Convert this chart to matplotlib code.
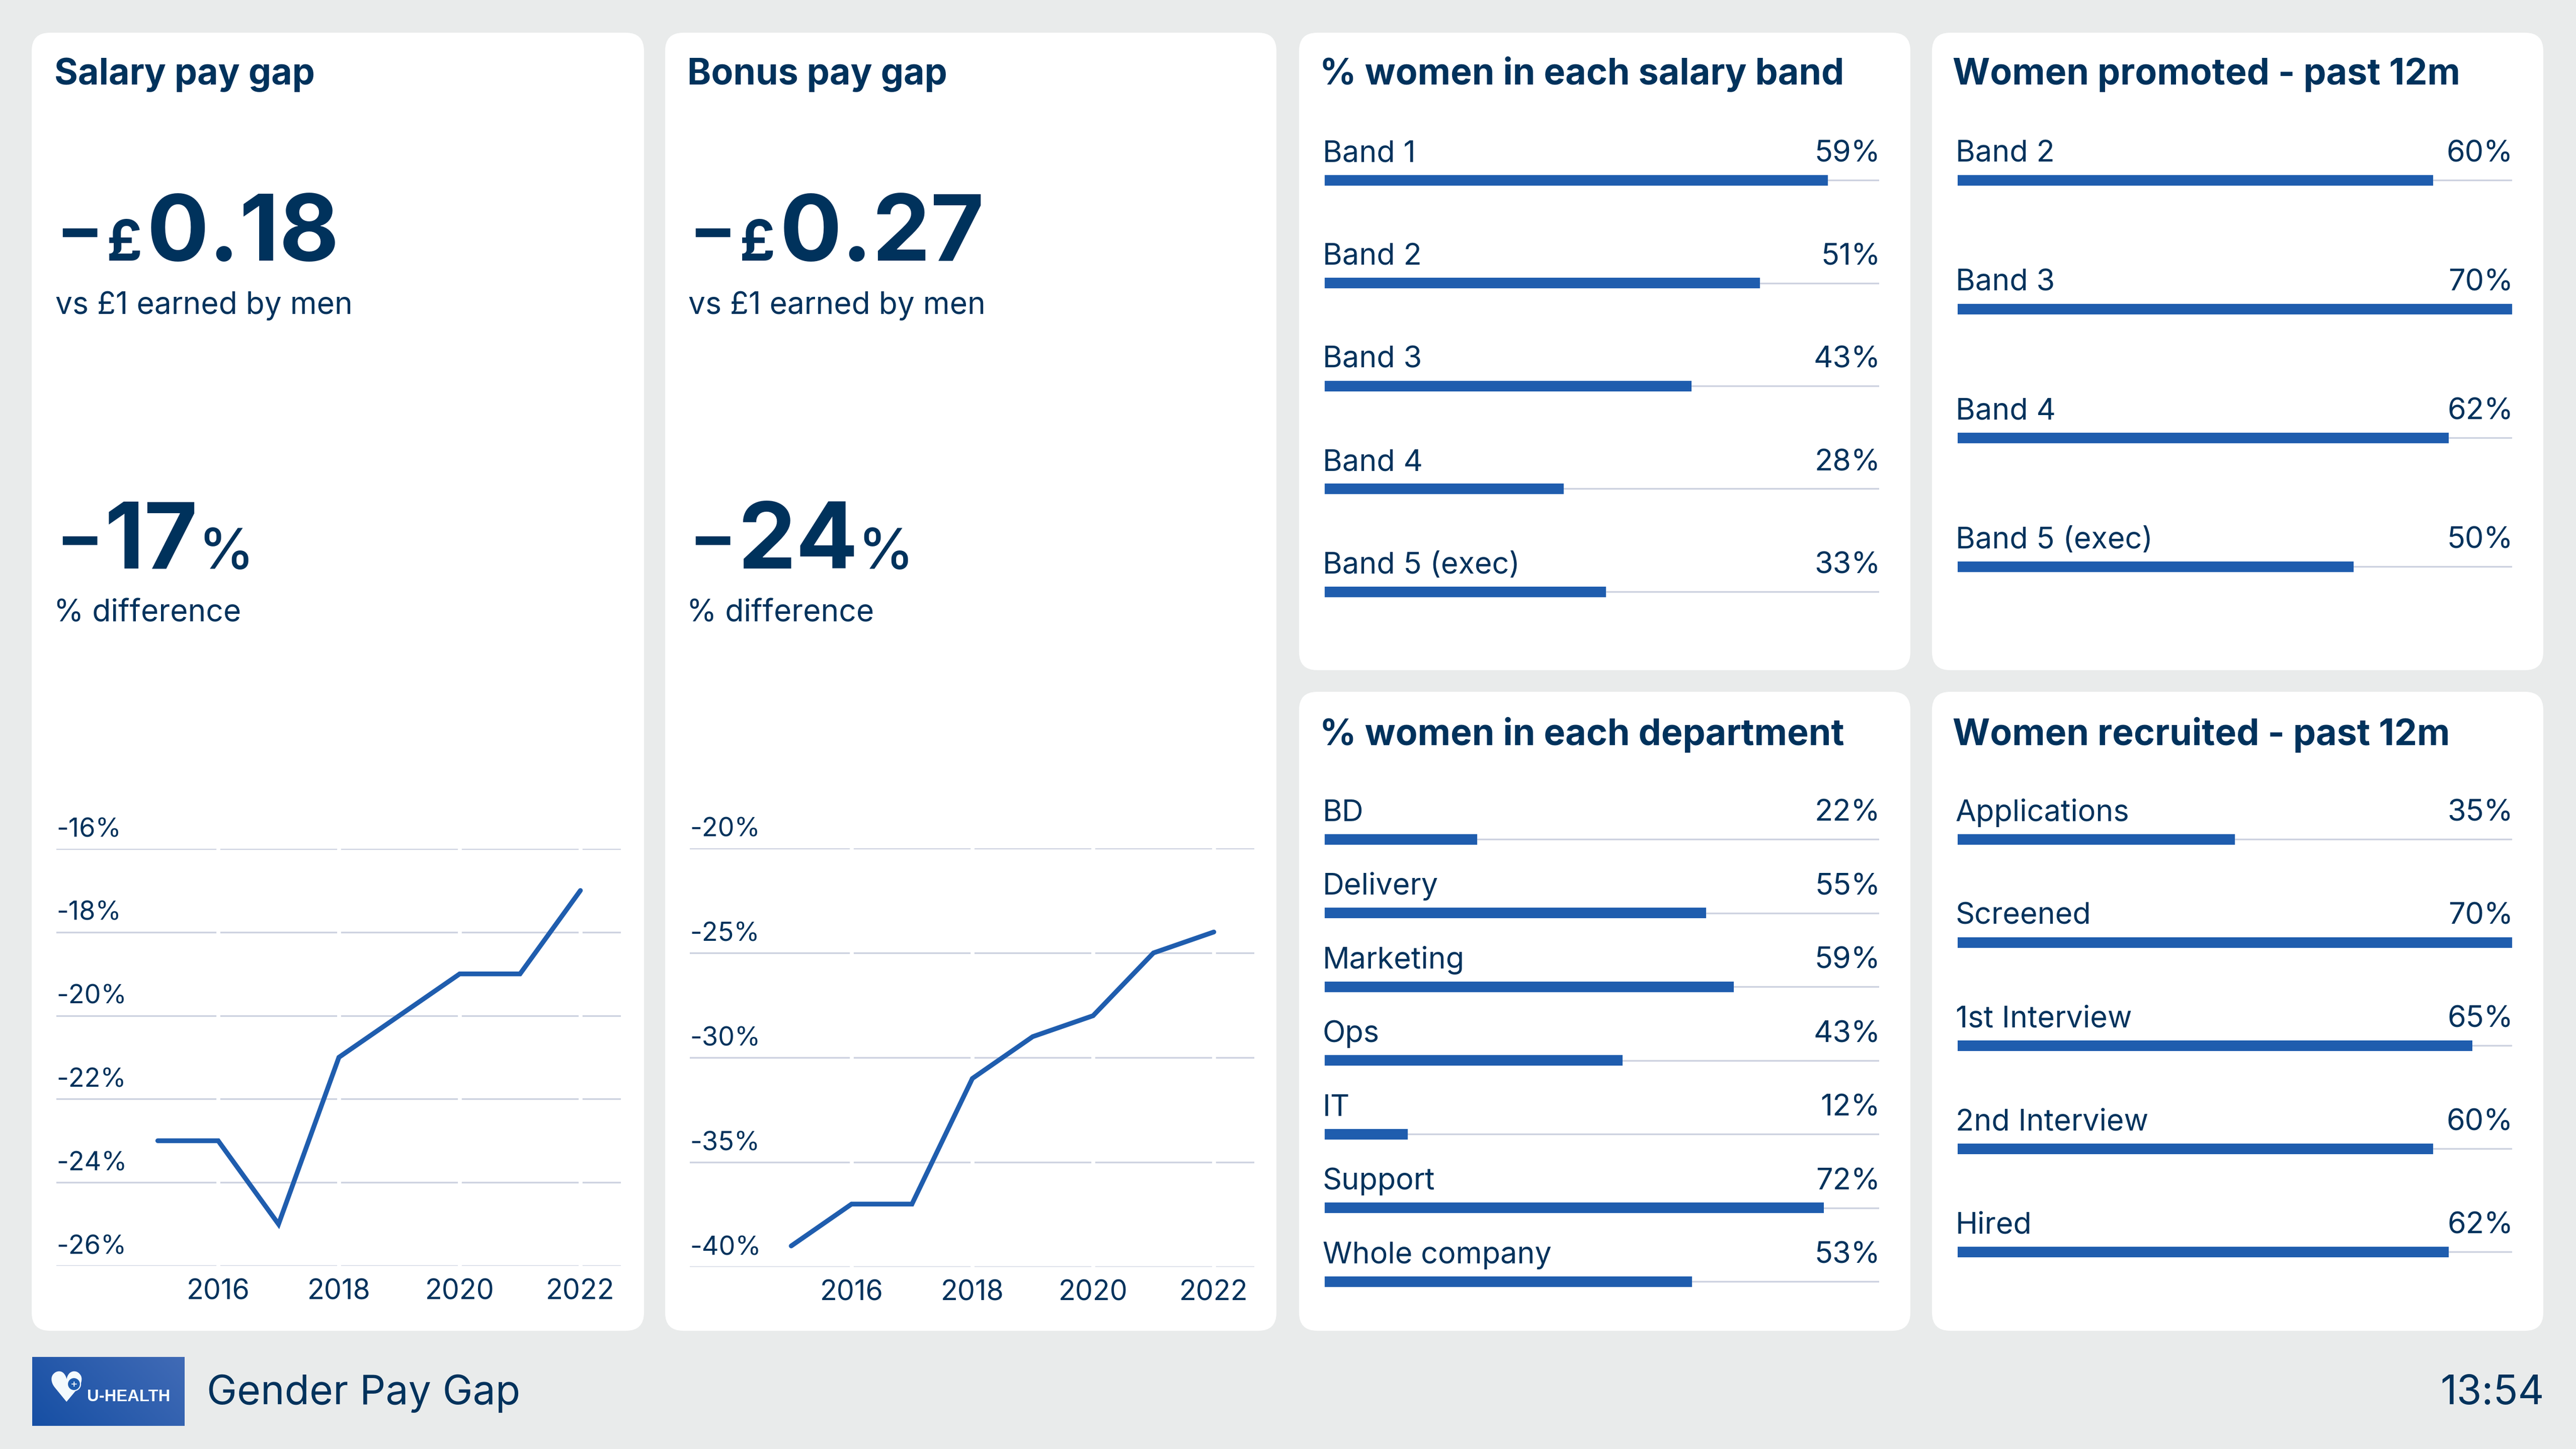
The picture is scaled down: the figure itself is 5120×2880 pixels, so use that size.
import matplotlib
matplotlib.use("Agg")
import matplotlib.pyplot as plt
from matplotlib.patches import FancyBboxPatch, Circle
from matplotlib.transforms import ScaledTranslation
import numpy as np

W, H = 5120, 2880
BG = "#E9EBEB"
NAVY = "#00325C"
BLUE = "#1F5DAE"
GRID = "#CDD2E0"
FONT = "Inter"

# data
years = [2015, 2016, 2017, 2018, 2019, 2020, 2021, 2022]
xticks = [2016, 2018, 2020, 2022]
salary_gap = [-23, -23, -25, -21, -20, -19, -19, -17]
bonus_gap = [-39, -37, -37, -31, -29, -28, -25, -24]
salary_ticks = [-26, -24, -22, -20, -18, -16]
bonus_ticks = [-40, -35, -30, -25, -20]

band_names = ["Band 1", "Band 2", "Band 3", "Band 4", "Band 5 (exec)"]
band_vals = [59, 51, 43, 28, 33]
promoted_names = ["Band 2", "Band 3", "Band 4", "Band 5 (exec)"]
promoted_vals = [60, 70, 62, 50]
dept_names = ["BD", "Delivery", "Marketing", "Ops", "IT", "Support", "Whole company"]
dept_vals = [22, 55, 59, 43, 12, 72, 53]
recruited_names = ["Applications", "Screened", "1st Interview", "2nd Interview", "Hired"]
recruited_vals = [35, 70, 65, 60, 62]

plt.rcParams['font.family'] = [FONT, 'DejaVu Sans']

fig = plt.figure(figsize=(12.8, 7.2), dpi=400, facecolor=BG)


def rect(x0, y0, x1, y1):
    # pixel box (y down) to figure fraction
    return [x0 / W, 1 - y1 / H, (x1 - x0) / W, (y1 - y0) / H]


bg = fig.add_axes([0, 0, 1, 1], zorder=0)
bg.set_xlim(0, W)
bg.set_ylim(H, 0)
bg.axis('off')

cards = [(63, 65, 1280, 2645), (1322, 65, 2537, 2645),
         (2582, 65, 3797, 1332), (3840, 65, 5055, 1332),
         (2582, 1375, 3797, 2645), (3840, 1375, 5055, 2645)]
for x0, y0, x1, y1 in cards:
    bg.add_patch(FancyBboxPatch((x0 + 36, y0 + 36), x1 - x0 - 72, y1 - y0 - 72,
                                boxstyle="round,pad=36,rounding_size=36",
                                fc="white", ec="none"))


def big_stat(dx, title, money, pct, sub1="vs £1 earned by men", sub2="% difference"):
    bg.text(108 + dx, 168, title, fontsize=12.9, fontweight='bold', color=NAVY)
    bg.text(111 + dx, 503, "−", fontsize=25, fontweight='bold', color=NAVY)
    bg.text(212 + dx, 518, "£", fontsize=20, fontweight='bold', color=NAVY)
    bg.text(292 + dx, 518, money, fontsize=33, fontweight='bold', color=NAVY)
    bg.text(110 + dx, 624, sub1, fontsize=10.9, color=NAVY)
    bg.text(111 + dx, 1115, "−", fontsize=25, fontweight='bold', color=NAVY)
    t = bg.text(208 + dx, 1130, pct, fontsize=33, fontweight='bold', color=NAVY)
    fig.canvas.draw()
    bb = t.get_window_extent()
    bg.text(bb.x1, 1130, "%", fontsize=20, fontweight='medium', color=NAVY)
    bg.text(107 + dx, 1235, sub2, fontsize=10.9, color=NAVY)


big_stat(0, "Salary pay gap", "0.18", "17")
big_stat(1258, "Bonus pay gap", "0.27", "24")


def line_chart(dx, vals, ticks, y_top, y_bot):
    ax = fig.add_axes(rect(110 + dx, y_top, 1232 + dx, y_bot), zorder=1)
    ax.patch.set_alpha(0)
    for s in ax.spines.values():
        s.set_visible(False)
    ax.set_xlim(2013.32, 2022.67)
    ax.set_ylim(min(ticks), max(ticks))
    ax.set_xticks(xticks)
    ax.set_yticks(ticks)
    ax.set_yticklabels([f"{t}%" for t in ticks])
    ax.tick_params(axis='both', length=0, colors=NAVY)
    ax.tick_params(axis='x', labelsize=10, pad=4.6)
    ax.tick_params(axis='y', labelsize=9.4, pad=0)
    for lab in ax.get_yticklabels():
        lab.set_ha('left')
        lab.set_va('baseline')
        lab.set_transform(lab.get_transform() + ScaledTranslation(0, 4.3 / 72, fig.dpi_scale_trans))
    ax.grid(axis='y', color=GRID, lw=0.6, zorder=1)
    ax.set_axisbelow(True)
    ax.vlines(xticks, min(ticks), max(ticks), color='white', lw=1.4, zorder=1.5, clip_on=False)
    ax.plot(years, vals, color=BLUE, lw=1.7, solid_joinstyle='miter',
            solid_capstyle='round', zorder=3, clip_on=False)


line_chart(2, salary_gap, salary_ticks, 1687, 2516)
line_chart(1261, bonus_gap, bonus_ticks, 1686, 2518)


def bar_panel(x0, title_y, title, names, vals, vmax, first, step):
    x1 = x0 + 1102
    bg.text(x0 - 10, title_y, title, fontsize=12.9, fontweight='bold', color=NAVY)
    n = len(vals)
    ax = fig.add_axes(rect(x0, first - step / 2, x1, first + step * (n - 0.5)), zorder=1)
    ax.patch.set_alpha(0)
    ax.axis('off')
    ax.set_xlim(0, vmax)
    ax.set_ylim(n - 0.5, -0.5)
    ys = np.arange(n)
    ax.hlines(ys, 0, vmax, color=GRID, lw=0.6, zorder=1)
    ax.barh(ys, vals, height=21 / step, color=BLUE, zorder=2)
    for y, name, v in zip(ys, names, vals):
        ax.annotate(name, (0, y), xytext=(-0.8, 6.5), textcoords='offset points',
                    fontsize=10.7, color=NAVY, ha='left', va='baseline')
        ax.annotate(f"{v}%", (vmax, y), xytext=(0.4, 6.5), textcoords='offset points',
                    fontsize=10.7, color=NAVY, ha='right', va='baseline')


bar_panel(2633, 168, "% women in each salary band", band_names, band_vals, 65, 358, 204.5)
bar_panel(3891, 168, "Women promoted - past 12m", promoted_names, promoted_vals, 70, 358, 256)
bar_panel(2633, 1481, "% women in each department", dept_names, dept_vals, 80, 1668, 146.5)
bar_panel(3891, 1481, "Women recruited - past 12m", recruited_names, recruited_vals, 70, 1668, 205)

# footer logo
grad = np.linspace(0, 1, 200)[None, :] * 0.7 + np.linspace(1, 0, 60)[:, None] * 0.3
logo_cmap = matplotlib.colors.LinearSegmentedColormap.from_list("logo", ["#164FA4", "#416BB6"])
bg.imshow(grad, extent=(64, 367, 2834, 2697), cmap=logo_cmap, aspect='auto', zorder=2)
bg.set_xlim(0, W)
bg.set_ylim(H, 0)
bg.text(132, 2763, "♥", fontsize=15, color="#F3FAFD", ha='center', va='center',
        family='DejaVu Sans', zorder=3)
bg.add_patch(Circle((147, 2751), 13, fc=BLUE, ec="#F3FAFD", lw=0.4, zorder=4))
bg.text(147, 2751, "+", fontsize=4, color="white", ha='center', va='center', zorder=5)
bg.text(173, 2785, "U-HEALTH", fontsize=5.9, family='Liberation Sans', fontweight='bold',
        color="#F3FAFD", zorder=3)

bg.text(411, 2791, "Gender Pay Gap", fontsize=14.5, color=NAVY)
bg.text(5057, 2791, "13:54", fontsize=14.5, color=NAVY, ha='right')

fig.savefig("out.png", dpi=400, facecolor=BG)
